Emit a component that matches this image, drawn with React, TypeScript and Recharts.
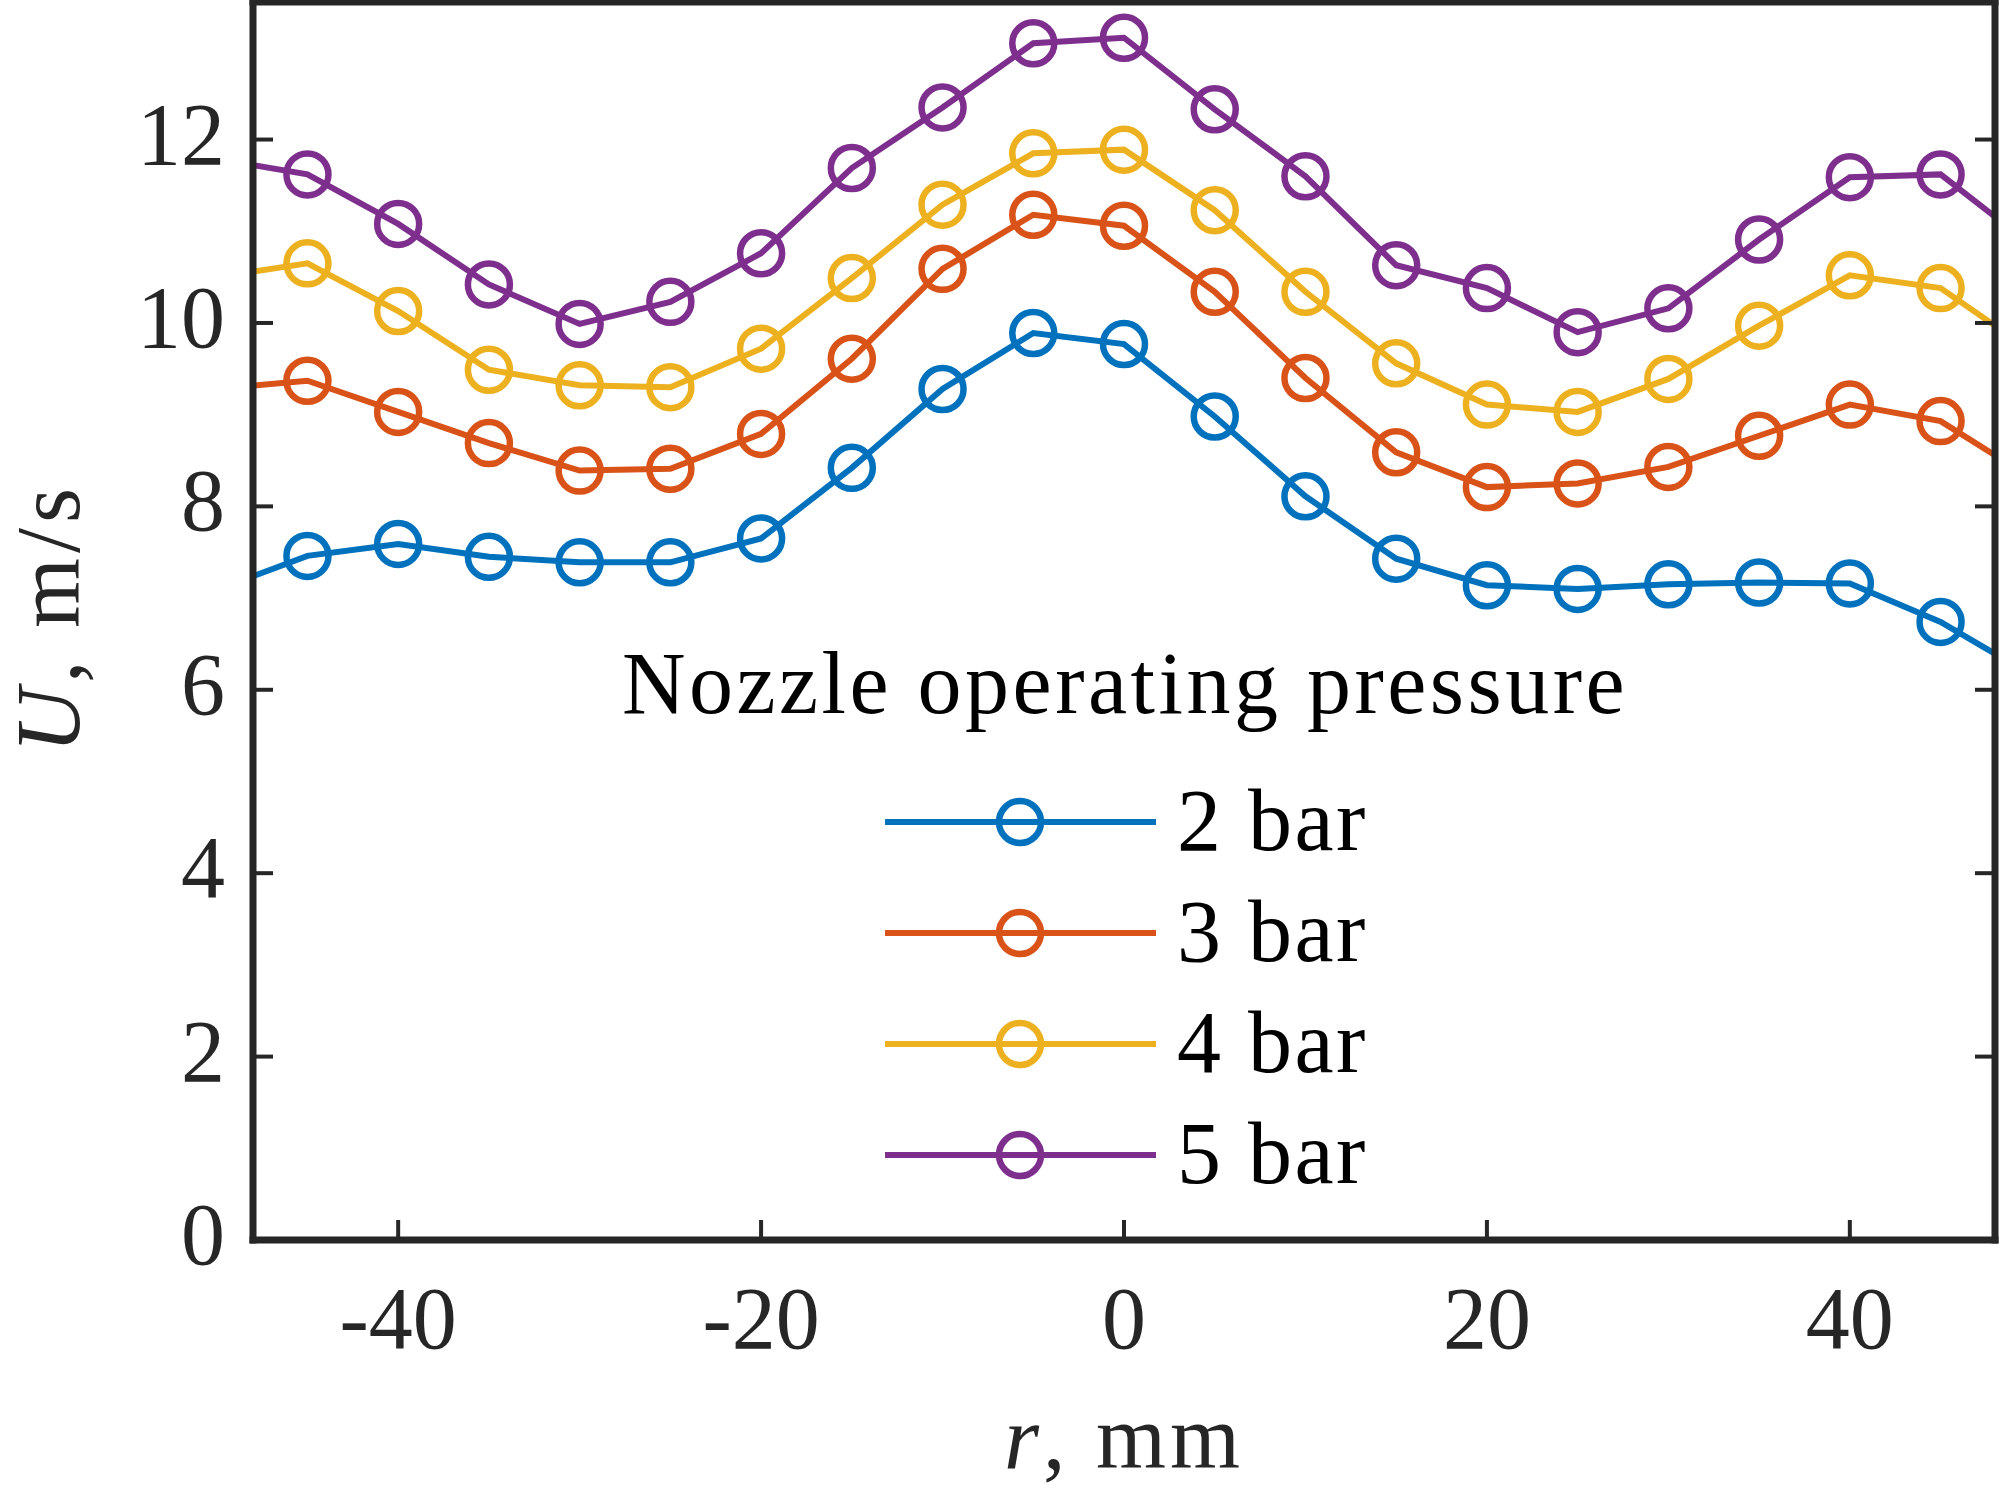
import React from 'react';
import { LineChart, Line, XAxis, YAxis, Legend } from 'recharts';

// radial position (mm); the two outer points sit beyond the axis limits and get clipped
const R_MM = [-50, -45, -40, -35, -30, -25, -20, -15, -10, -5, 0, 5, 10, 15, 20, 25, 30, 35, 40, 45, 50];

const U_2BAR = [7.09, 7.46, 7.59, 7.45, 7.39, 7.39, 7.65, 8.42, 9.28, 9.89, 9.77, 8.98, 8.11, 7.43, 7.14, 7.10, 7.15, 7.17, 7.16, 6.74, 6.16];
const U_3BAR = [9.28, 9.37, 9.03, 8.69, 8.39, 8.41, 8.79, 9.61, 10.59, 11.18, 11.06, 10.34, 9.40, 8.59, 8.21, 8.25, 8.43, 8.77, 9.11, 8.93, 8.31];
const U_4BAR = [10.50, 10.65, 10.13, 9.49, 9.32, 9.30, 9.72, 10.49, 11.29, 11.85, 11.89, 11.23, 10.34, 9.56, 9.11, 9.03, 9.39, 9.97, 10.52, 10.38, 9.70];
const U_5BAR = [11.79, 11.62, 11.08, 10.42, 9.99, 10.23, 10.76, 11.69, 12.35, 13.05, 13.11, 12.33, 11.60, 10.63, 10.38, 9.90, 10.16, 10.91, 11.59, 11.62, 10.85];

const SERIES_NAMES = ['2 bar', '3 bar', '4 bar', '5 bar'];
const LEGEND_TITLE = 'Nozzle operating pressure';
const X_TICKS = [-40, -20, 0, 20, 40];
const Y_TICKS = [0, 2, 4, 6, 8, 10, 12];

const COLORS = ['#0072BD', '#D95319', '#EDB120', '#7E2F8E'];
const KEYS = ['p2', 'p3', 'p4', 'p5'];

const data = R_MM.map((r, i) => ({
    r,
    p2: U_2BAR[i],
    p3: U_3BAR[i],
    p4: U_4BAR[i],
    p5: U_5BAR[i],
}));

const AXIS = '#262626';
const FONT = '"Liberation Serif", "DejaVu Serif", serif';
const TICK_LEN = 20;
const TICK_FONT = 88;

// MATLAB style: ticks point inward on all four sides
const BottomTick = ({ x, y, payload }: any) => (
    <g>
        <line x1={x} x2={x} y1={y} y2={y - TICK_LEN} stroke={AXIS} strokeWidth={4} />
        <text x={x} y={y + 108} textAnchor="middle" fontFamily={FONT} fontSize={TICK_FONT} fill={AXIS}>
            {payload.value}
        </text>
    </g>
);

const TopTick = ({ x, y }: any) => (
    <line x1={x} x2={x} y1={y} y2={y + TICK_LEN} stroke={AXIS} strokeWidth={4} />
);

const LeftTick = ({ x, y, payload }: any) => (
    <g>
        <line x1={x} x2={x + TICK_LEN} y1={y} y2={y} stroke={AXIS} strokeWidth={4} />
        <text x={x - 28} y={y + 24} textAnchor="end" fontFamily={FONT} fontSize={TICK_FONT} fill={AXIS}>
            {payload.value}
        </text>
    </g>
);

const RightTick = ({ x, y }: any) => (
    <line x1={x} x2={x - TICK_LEN} y1={y} y2={y} stroke={AXIS} strokeWidth={4} />
);

const PressureLegend = ({ payload }: any) => {
    const items = payload || [];
    return (
        <svg width={2000} height={1488} style={{ display: 'block' }}>
            <text x={1125} y={713} textAnchor="middle" fontFamily={FONT} fontSize={88} letterSpacing={3.5} fill="#000">
                {LEGEND_TITLE}
            </text>
            {items.map((item: any, i: number) => {
                const y = 822 + i * 111;
                return (
                    <g key={item.value}>
                        <line x1={885} x2={1156} y1={y} y2={y} stroke={item.color} strokeWidth={6} />
                        <circle cx={1020} cy={y} r={21} stroke={item.color} strokeWidth={6.5} fill="none" />
                        <text x={1177} y={y + 28} fontFamily={FONT} fontSize={88} letterSpacing={2.5} fill="#000">
                            {item.value}
                        </text>
                    </g>
                );
            })}
        </svg>
    );
};

const App = () => {
    return (
        <div style={{ position: 'absolute', left: 0, top: 0, width: 2000, height: 1488, background: '#fff' }}>
            <LineChart width={2000} height={1488} data={data} margin={{ top: 1, right: 4, left: 0, bottom: 0 }}>
                <XAxis
                    dataKey="r"
                    type="number"
                    domain={[-48, 48]}
                    allowDataOverflow
                    ticks={X_TICKS}
                    interval={0}
                    height={248}
                    tickSize={0}
                    tickMargin={0}
                    tickLine={false}
                    axisLine={{ stroke: AXIS, strokeWidth: 7, strokeLinecap: 'square' }}
                    tick={BottomTick}
                    label={({ viewBox }: any) => (
                        <text
                            x={viewBox.x + viewBox.width / 2}
                            y={viewBox.y + 228}
                            textAnchor="middle"
                            fontFamily={FONT}
                            fontSize={90}
                            letterSpacing={4}
                            fill={AXIS}
                        >
                            <tspan fontStyle="italic">r</tspan>, mm
                        </text>
                    )}
                />
                <XAxis
                    xAxisId="top"
                    orientation="top"
                    type="number"
                    domain={[-48, 48]}
                    allowDataOverflow
                    ticks={X_TICKS}
                    interval={0}
                    height={1}
                    tickSize={0}
                    tickMargin={0}
                    tickLine={false}
                    axisLine={{ stroke: AXIS, strokeWidth: 7, strokeLinecap: 'square' }}
                    tick={TopTick}
                />
                <YAxis
                    type="number"
                    domain={[0, 13.5]}
                    allowDataOverflow
                    ticks={Y_TICKS}
                    interval={0}
                    width={253}
                    tickSize={0}
                    tickMargin={0}
                    tickLine={false}
                    axisLine={{ stroke: AXIS, strokeWidth: 7, strokeLinecap: 'square' }}
                    tick={LeftTick}
                    label={({ viewBox }: any) => {
                        const cx = viewBox.x + 79;
                        const cy = viewBox.y + viewBox.height / 2 - 3;
                        return (
                            <text
                                transform={`translate(${cx} ${cy}) rotate(-90)`}
                                textAnchor="middle"
                                fontFamily={FONT}
                                fontSize={90}
                                letterSpacing={5}
                                fill={AXIS}
                            >
                                <tspan fontStyle="italic">U</tspan>, m/s
                            </text>
                        );
                    }}
                />
                <YAxis
                    yAxisId="right"
                    orientation="right"
                    type="number"
                    domain={[0, 13.5]}
                    allowDataOverflow
                    ticks={Y_TICKS}
                    interval={0}
                    width={1}
                    tickSize={0}
                    tickMargin={0}
                    tickLine={false}
                    axisLine={{ stroke: AXIS, strokeWidth: 7, strokeLinecap: 'square' }}
                    tick={RightTick}
                />
                {KEYS.map((key, i) => (
                    <Line
                        key={key}
                        type="linear"
                        dataKey={key}
                        name={SERIES_NAMES[i]}
                        stroke={COLORS[i]}
                        strokeWidth={6}
                        dot={{ r: 21, strokeWidth: 6.5, fill: 'none', stroke: COLORS[i] }}
                        activeDot={false}
                        isAnimationActive={false}
                    />
                ))}
                <Legend
                    layout="horizontal"
                    verticalAlign="middle"
                    align="center"
                    wrapperStyle={{ left: 0, top: 0, width: 2000, height: 1488, pointerEvents: 'none' }}
                    content={(props: any) => <PressureLegend payload={props.payload} />}
                />
            </LineChart>
        </div>
    );
};

export default App;
